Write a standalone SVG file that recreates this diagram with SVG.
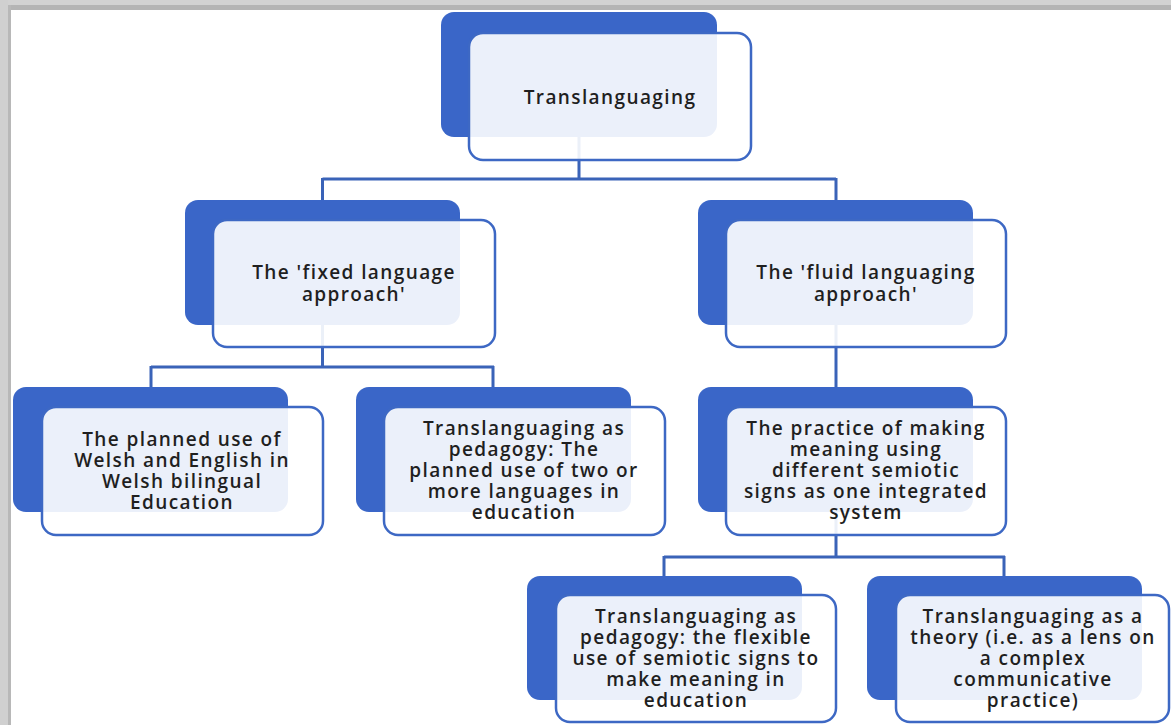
<svg xmlns="http://www.w3.org/2000/svg" width="1171" height="725" viewBox="0 0 1171 725">
  <style>
    .back { fill: #3a66c8; }
    .front { fill: #ffffff; fill-opacity: 0.9; stroke: #3d68c4; stroke-width: 2.5; }
    .link { fill: none; stroke: #3a63b8; stroke-width: 3; }
    .label { font-family: "Open Sans", "Liberation Sans", sans-serif; font-size: 19px; font-weight: 600; letter-spacing: 1.4px; fill: #1f1f1f; text-anchor: middle; }
  </style>

  <!-- page background and frame -->
  <rect x="0" y="0" width="1171" height="725" fill="#ffffff"/>
  <rect x="0" y="0" width="1171" height="5" fill="#d2d2d2"/>
  <rect x="0" y="5" width="1171" height="5" fill="#b4b4b4"/>
  <rect x="0" y="0" width="8" height="725" fill="#d0d0d0"/>
  <rect x="8" y="5" width="3" height="720" fill="#b8b8b8"/>

  <!-- connectors -->
  <g id="connectors">
    <path class="link" d="M579 137 V179 M322.5 179 H836 M322.5 178 V201 M836 178 V201"/>
    <path class="link" d="M322.5 325 V367 M151 367 H494 M151 366 V388 M493 366 V388"/>
    <path class="link" d="M836 325 V388"/>
    <path class="link" d="M836 512 V557 M664 557 H1005 M664 556 V577 M1004 556 V577"/>
  </g>

  <!-- root -->
  <g id="node-translanguaging">
    <rect class="back" x="441" y="12" width="276" height="125" rx="13"/>
    <rect class="front" x="469" y="33" width="282" height="127" rx="14"/>
    <text class="label" x="610" y="104">Translanguaging</text>
  </g>

  <!-- level 1 -->
  <g id="node-fixed">
    <rect class="back" x="185" y="200" width="275" height="125" rx="13"/>
    <rect class="front" x="213" y="220" width="282" height="127" rx="14"/>
    <text class="label" x="354" y="279">The 'fixed language</text>
    <text class="label" x="354" y="301">approach'</text>
  </g>

  <g id="node-fluid">
    <rect class="back" x="698" y="200" width="275" height="125" rx="13"/>
    <rect class="front" x="726" y="220" width="280" height="127" rx="14"/>
    <text class="label" x="866" y="279">The 'fluid languaging</text>
    <text class="label" x="866" y="301">approach'</text>
  </g>

  <!-- level 2 -->
  <g id="node-welsh">
    <rect class="back" x="13" y="387" width="275" height="125" rx="13"/>
    <rect class="front" x="42" y="407" width="281" height="128" rx="14"/>
    <text class="label" x="182" y="446">The planned use of</text>
    <text class="label" x="182" y="467">Welsh and English in</text>
    <text class="label" x="182" y="488">Welsh bilingual</text>
    <text class="label" x="182" y="509">Education</text>
  </g>

  <g id="node-pedagogy-planned">
    <rect class="back" x="356" y="387" width="275" height="125" rx="13"/>
    <rect class="front" x="384" y="407" width="281" height="128" rx="14"/>
    <text class="label" x="524" y="435">Translanguaging as</text>
    <text class="label" x="524" y="456">pedagogy: The</text>
    <text class="label" x="524" y="477">planned use of two or</text>
    <text class="label" x="524" y="498">more languages in</text>
    <text class="label" x="524" y="519">education</text>
  </g>

  <g id="node-practice">
    <rect class="back" x="698" y="387" width="275" height="125" rx="13"/>
    <rect class="front" x="726" y="407" width="280" height="128" rx="14"/>
    <text class="label" x="866" y="435">The practice of making</text>
    <text class="label" x="866" y="456">meaning using</text>
    <text class="label" x="866" y="477">different semiotic</text>
    <text class="label" x="866" y="498">signs as one integrated</text>
    <text class="label" x="866" y="519">system</text>
  </g>

  <!-- level 3 -->
  <g id="node-pedagogy-flexible">
    <rect class="back" x="527" y="576" width="275" height="124" rx="13"/>
    <rect class="front" x="556" y="595" width="280" height="127" rx="14"/>
    <text class="label" x="696" y="623">Translanguaging as</text>
    <text class="label" x="696" y="644">pedagogy: the flexible</text>
    <text class="label" x="696" y="665">use of semiotic signs to</text>
    <text class="label" x="696" y="686">make meaning in</text>
    <text class="label" x="696" y="707">education</text>
  </g>

  <g id="node-theory">
    <rect class="back" x="867" y="576" width="275" height="124" rx="13"/>
    <rect class="front" x="896" y="595" width="273" height="127" rx="14"/>
    <text class="label" x="1033" y="623">Translanguaging as a</text>
    <text class="label" x="1033" y="644">theory (i.e. as a lens on</text>
    <text class="label" x="1033" y="665">a complex</text>
    <text class="label" x="1033" y="686">communicative</text>
    <text class="label" x="1033" y="707">practice)</text>
  </g>
</svg>
